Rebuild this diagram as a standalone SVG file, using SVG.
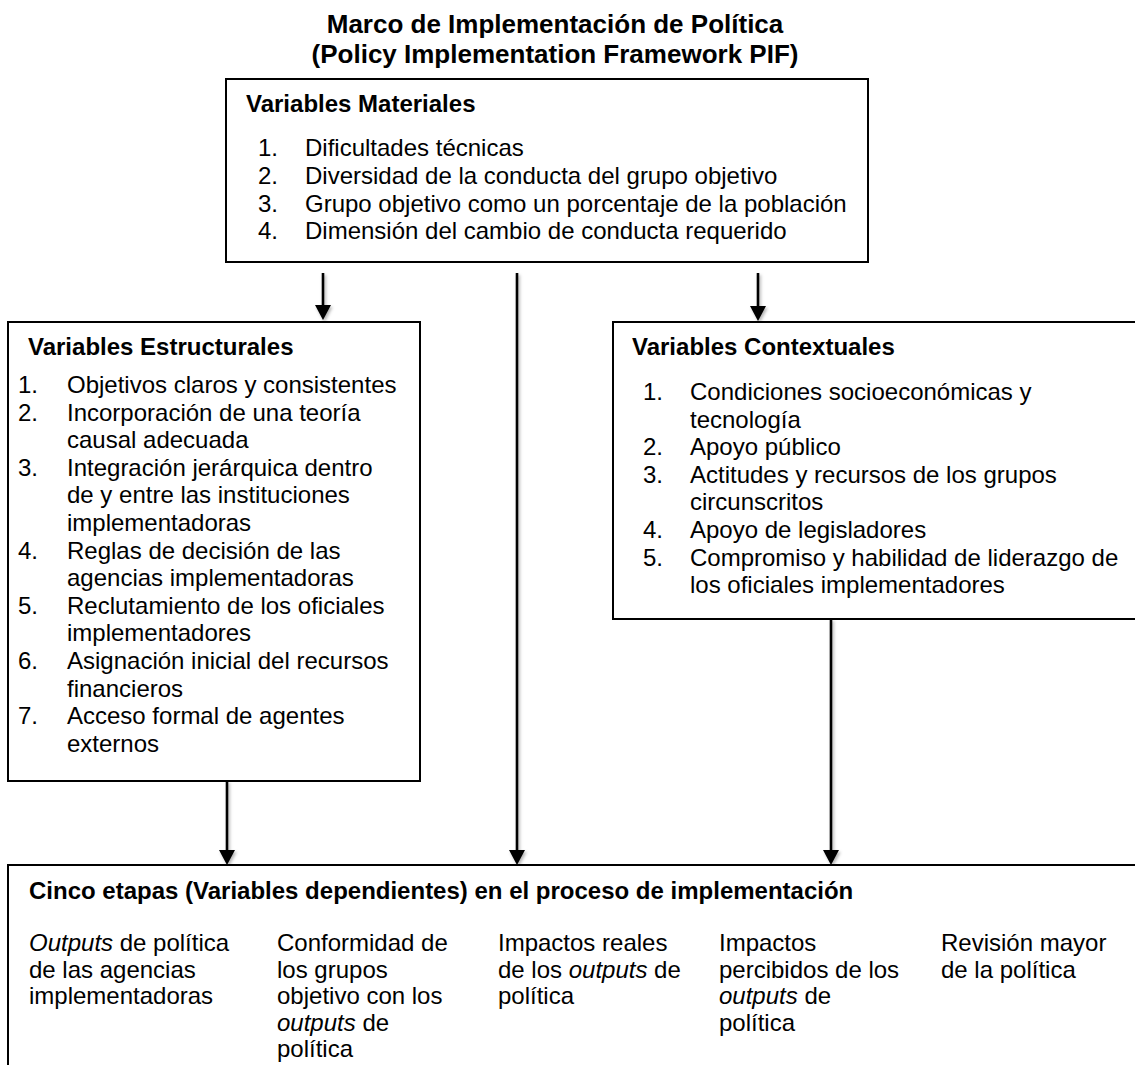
<svg xmlns="http://www.w3.org/2000/svg" width="1135" height="1065" viewBox="0 0 1135 1065">
  <style>
    .bg { fill: #ffffff; }
    .box { fill: #ffffff; stroke: #000000; stroke-width: 2; }
    .t { font-family: "Liberation Sans", Arial, Helvetica, sans-serif; font-size: 24px; fill: #000000; }
    .b { font-weight: bold; }
    .title { font-family: "Liberation Sans", Arial, Helvetica, sans-serif; font-size: 26px; font-weight: bold; text-anchor: middle; fill: #000000; }
    .conn { stroke: #000000; stroke-width: 2.6; fill: none; marker-end: url(#head); }
    .it { font-style: italic; }
  </style>
  <defs>
    <marker id="head" viewBox="0 0 15 16" refX="9" refY="8" markerWidth="15" markerHeight="16" markerUnits="userSpaceOnUse" orient="auto">
      <path d="M0,0 L15,8 L0,16 z" fill="#000000"/>
    </marker>
    <filter id="shadow" x="-50%" y="-10%" width="200%" height="120%">
      <feDropShadow dx="1.5" dy="2" stdDeviation="1.5" flood-color="#000000" flood-opacity="0.3"/>
    </filter>
  </defs>

  <rect class="bg" x="0" y="0" width="1135" height="1065"/>

  <!-- Title -->
  <g id="title">
    <text class="title" x="555" y="33">Marco de Implementación de Política</text>
    <text class="title" x="555" y="63">(Policy Implementation Framework PIF)</text>
  </g>

  <!-- Connectors -->
  <g id="connectors" filter="url(#shadow)">
    <line class="conn" x1="323" y1="273" x2="323" y2="314"/>
    <line class="conn" x1="517" y1="273" x2="517" y2="859"/>
    <line class="conn" x1="758" y1="273" x2="758" y2="315"/>
    <line class="conn" x1="227" y1="781" x2="227" y2="859"/>
    <line class="conn" x1="831" y1="619" x2="831" y2="859"/>
    <line class="conn" x1="228" y1="970" x2="262" y2="970"/>
    <line class="conn" x1="445" y1="970" x2="481" y2="970"/>
    <line class="conn" x1="686" y1="970" x2="703" y2="970"/>
    <line class="conn" x1="903" y1="970" x2="921" y2="970"/>
  </g>

  <!-- Material variables -->
  <g id="materiales">
    <rect class="box" x="226" y="79" width="642" height="183"/>
    <text class="t b" x="246" y="112">Variables Materiales</text>
    <text class="t" x="258" y="156">1.</text>
    <text class="t" x="305" y="156">Dificultades técnicas</text>
    <text class="t" x="258" y="184">2.</text>
    <text class="t" x="305" y="184">Diversidad de la conducta del grupo objetivo</text>
    <text class="t" x="258" y="212">3.</text>
    <text class="t" x="305" y="212">Grupo objetivo como un porcentaje de la población</text>
    <text class="t" x="258" y="239">4.</text>
    <text class="t" x="305" y="239">Dimensión del cambio de conducta requerido</text>
  </g>

  <!-- Structural variables -->
  <g id="estructurales">
    <rect class="box" x="8" y="322" width="412" height="459"/>
    <text class="t b" x="28" y="355">Variables Estructurales</text>
    <text class="t" x="18" y="393">1.</text>
    <text class="t" x="67" y="393">Objetivos claros y consistentes</text>
    <text class="t" x="18" y="420.6">2.</text>
    <text class="t" x="67" y="420.6">Incorporación de una teoría</text>
    <text class="t" x="67" y="448.2">causal adecuada</text>
    <text class="t" x="18" y="475.8">3.</text>
    <text class="t" x="67" y="475.8">Integración jerárquica dentro</text>
    <text class="t" x="67" y="503.4">de y entre las instituciones</text>
    <text class="t" x="67" y="531">implementadoras</text>
    <text class="t" x="18" y="558.6">4.</text>
    <text class="t" x="67" y="558.6">Reglas de decisión de las</text>
    <text class="t" x="67" y="586.2">agencias implementadoras</text>
    <text class="t" x="18" y="613.8">5.</text>
    <text class="t" x="67" y="613.8">Reclutamiento de los oficiales</text>
    <text class="t" x="67" y="641.4">implementadores</text>
    <text class="t" x="18" y="669">6.</text>
    <text class="t" x="67" y="669">Asignación inicial del recursos</text>
    <text class="t" x="67" y="696.6">financieros</text>
    <text class="t" x="18" y="724.2">7.</text>
    <text class="t" x="67" y="724.2">Acceso formal de agentes</text>
    <text class="t" x="67" y="751.8">externos</text>
  </g>

  <!-- Contextual variables -->
  <g id="contextuales">
    <rect class="box" x="613" y="322" width="530" height="297"/>
    <text class="t b" x="632" y="355">Variables Contextuales</text>
    <text class="t" x="643" y="400">1.</text>
    <text class="t" x="690" y="400">Condiciones socioeconómicas y</text>
    <text class="t" x="690" y="427.6">tecnología</text>
    <text class="t" x="643" y="455.2">2.</text>
    <text class="t" x="690" y="455.2">Apoyo público</text>
    <text class="t" x="643" y="482.8">3.</text>
    <text class="t" x="690" y="482.8">Actitudes y recursos de los grupos</text>
    <text class="t" x="690" y="510.4">circunscritos</text>
    <text class="t" x="643" y="538">4.</text>
    <text class="t" x="690" y="538">Apoyo de legisladores</text>
    <text class="t" x="643" y="565.6">5.</text>
    <text class="t" x="690" y="565.6">Compromiso y habilidad de liderazgo de</text>
    <text class="t" x="690" y="593.2">los oficiales implementadores</text>
  </g>

  <!-- Dependent variables: five stages -->
  <g id="etapas">
    <rect class="box" x="8" y="865" width="1140" height="220"/>
    <text class="t b" x="29" y="899">Cinco etapas (Variables dependientes) en el proceso de implementación</text>
    <g id="etapa1">
      <text class="t" x="29" y="951"><tspan class="it">Outputs</tspan> de política</text>
      <text class="t" x="29" y="977.5">de las agencias</text>
      <text class="t" x="29" y="1004">implementadoras</text>
    </g>
    <g id="etapa2">
      <text class="t" x="277" y="951">Conformidad de</text>
      <text class="t" x="277" y="977.5">los grupos</text>
      <text class="t" x="277" y="1004">objetivo con los</text>
      <text class="t" x="277" y="1030.5"><tspan class="it">outputs</tspan> de</text>
      <text class="t" x="277" y="1057">política</text>
    </g>
    <g id="etapa3">
      <text class="t" x="498" y="951">Impactos reales</text>
      <text class="t" x="498" y="977.5">de los <tspan class="it">outputs</tspan> de</text>
      <text class="t" x="498" y="1004">política</text>
    </g>
    <g id="etapa4">
      <text class="t" x="719" y="951">Impactos</text>
      <text class="t" x="719" y="977.5">percibidos de los</text>
      <text class="t" x="719" y="1004"><tspan class="it">outputs</tspan> de</text>
      <text class="t" x="719" y="1030.5">política</text>
    </g>
    <g id="etapa5">
      <text class="t" x="941" y="951">Revisión mayor</text>
      <text class="t" x="941" y="977.5">de la política</text>
    </g>
  </g>
</svg>
